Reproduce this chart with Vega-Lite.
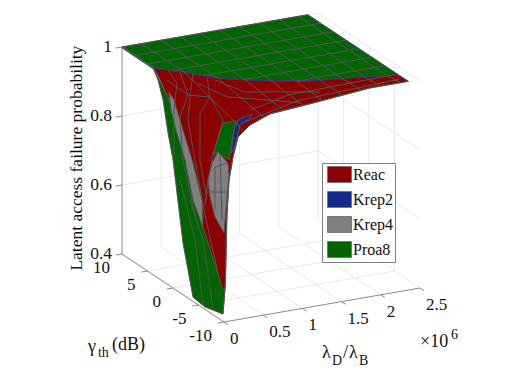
{"$schema":"https://vega.github.io/schema/vega-lite/v6.json","width":512,"height":388,"padding":0,"autosize":{"type":"none"},"background":"white",
"data":{"values":[
{"k":"g","d":"f1","l":0,"g":-10,"p":0.4},{"k":"g","d":"f1","l":0,"g":10,"p":0.4},
{"k":"g","d":"f2","l":0.5,"g":-10,"p":0.4},{"k":"g","d":"f2","l":0.5,"g":10,"p":0.4},
{"k":"g","d":"f3","l":1,"g":-10,"p":0.4},{"k":"g","d":"f3","l":1,"g":10,"p":0.4},
{"k":"g","d":"f4","l":1.5,"g":-10,"p":0.4},{"k":"g","d":"f4","l":1.5,"g":10,"p":0.4},
{"k":"g","d":"f5","l":2,"g":-10,"p":0.4},{"k":"g","d":"f5","l":2,"g":10,"p":0.4},
{"k":"g","d":"f6","l":2.5,"g":-10,"p":0.4},{"k":"g","d":"f6","l":2.5,"g":10,"p":0.4},
{"k":"g","d":"h1","l":0,"g":5,"p":0.4},{"k":"g","d":"h1","l":2.5,"g":5,"p":0.4},
{"k":"g","d":"h2","l":0,"g":0,"p":0.4},{"k":"g","d":"h2","l":2.5,"g":0,"p":0.4},
{"k":"g","d":"h3","l":0,"g":-5,"p":0.4},{"k":"g","d":"h3","l":2.5,"g":-5,"p":0.4},
{"k":"g","d":"v1","l":0.5,"g":10,"p":0.4},{"k":"g","d":"v1","l":0.5,"g":10,"p":1},
{"k":"g","d":"v2","l":1,"g":10,"p":0.4},{"k":"g","d":"v2","l":1,"g":10,"p":1},
{"k":"g","d":"v3","l":1.5,"g":10,"p":0.4},{"k":"g","d":"v3","l":1.5,"g":10,"p":1},
{"k":"g","d":"v4","l":2,"g":10,"p":0.4},{"k":"g","d":"v4","l":2,"g":10,"p":1},
{"k":"g","d":"v5","l":2.5,"g":10,"p":0.4},{"k":"g","d":"v5","l":2.5,"g":10,"p":1},
{"k":"g","d":"w1","l":2.5,"g":5,"p":0.4},{"k":"g","d":"w1","l":2.5,"g":5,"p":1},
{"k":"g","d":"w2","l":2.5,"g":0,"p":0.4},{"k":"g","d":"w2","l":2.5,"g":0,"p":1},
{"k":"g","d":"w3","l":2.5,"g":-5,"p":0.4},{"k":"g","d":"w3","l":2.5,"g":-5,"p":1},
{"k":"g","d":"b1","l":0,"g":10,"p":0.6},{"k":"g","d":"b1","l":2.5,"g":10,"p":0.6},{"k":"g","d":"b1","l":2.5,"g":-10,"p":0.6},
{"k":"g","d":"b2","l":0,"g":10,"p":0.8},{"k":"g","d":"b2","l":2.5,"g":10,"p":0.8},{"k":"g","d":"b2","l":2.5,"g":-10,"p":0.8},
{"k":"g","d":"b3","l":0,"g":10,"p":1},{"k":"g","d":"b3","l":2.5,"g":10,"p":1},{"k":"g","d":"b3","l":2.5,"g":-10,"p":1},
{"k":"a","d":"z","l":0,"g":10,"p":1},{"k":"a","d":"z","l":0,"g":10,"p":0.4},{"k":"a","d":"z","l":0,"g":-10,"p":0.4},{"k":"a","d":"z","l":2.5,"g":-10,"p":0.4},
{"k":"a","d":"t1","l":0,"g":10,"p":1},{"k":"a","d":"t1","l":-0.08,"g":10,"p":1},
{"k":"a","d":"t2","l":0,"g":10,"p":0.8},{"k":"a","d":"t2","l":-0.08,"g":10,"p":0.8},
{"k":"a","d":"t3","l":0,"g":10,"p":0.6},{"k":"a","d":"t3","l":-0.08,"g":10,"p":0.6},
{"k":"a","d":"t4","l":0,"g":10,"p":0.4},{"k":"a","d":"t4","l":-0.08,"g":10,"p":0.4},
{"k":"a","d":"t5","l":0,"g":5,"p":0.4},{"k":"a","d":"t5","l":-0.08,"g":5,"p":0.4},
{"k":"a","d":"t6","l":0,"g":0,"p":0.4},{"k":"a","d":"t6","l":-0.08,"g":0,"p":0.4},
{"k":"a","d":"t7","l":0,"g":-5,"p":0.4},{"k":"a","d":"t7","l":-0.08,"g":-5,"p":0.4},
{"k":"a","d":"t8","l":0,"g":-10,"p":0.4},{"k":"a","d":"t8","l":-0.08,"g":-10,"p":0.4},
{"k":"a","d":"t9","l":0,"g":-10,"p":0.4},{"k":"a","d":"t9","l":0,"g":-10.8,"p":0.4},
{"k":"a","d":"t10","l":0.5,"g":-10,"p":0.4},{"k":"a","d":"t10","l":0.5,"g":-10.8,"p":0.4},
{"k":"a","d":"t11","l":1,"g":-10,"p":0.4},{"k":"a","d":"t11","l":1,"g":-10.8,"p":0.4},
{"k":"a","d":"t12","l":1.5,"g":-10,"p":0.4},{"k":"a","d":"t12","l":1.5,"g":-10.8,"p":0.4},
{"k":"a","d":"t13","l":2,"g":-10,"p":0.4},{"k":"a","d":"t13","l":2,"g":-10.8,"p":0.4},
{"k":"a","d":"t14","l":2.5,"g":-10,"p":0.4},{"k":"a","d":"t14","l":2.5,"g":-10.8,"p":0.4},

{"k":"s","s":"Proa8","d":"P1","l":0,"g":10,"p":1},{"k":"s","s":"Proa8","d":"P1","l":2.37,"g":10,"p":1},{"k":"s","s":"Proa8","d":"P1","l":2.35,"g":-10,"p":1.005},{"k":"s","s":"Proa8","d":"P1","l":2.37,"g":-7.7,"p":1},{"k":"s","s":"Proa8","d":"P1","l":1.95,"g":-6.64,"p":1},{"k":"s","s":"Proa8","d":"P1","l":1.39,"g":-5.55,"p":1},{"k":"s","s":"Proa8","d":"P1","l":1.08,"g":-4.33,"p":1},{"k":"s","s":"Proa8","d":"P1","l":0.795,"g":-2.88,"p":1},{"k":"s","s":"Proa8","d":"P1","l":0.49,"g":-1.08,"p":1},{"k":"s","s":"Proa8","d":"P1","l":0.238,"g":1.7,"p":1},{"k":"s","s":"Proa8","d":"P1","l":0,"g":3.84,"p":1},{"k":"s","s":"Proa8","d":"P1","l":0,"g":10,"p":1},

{"k":"s","s":"Proa8","d":"P2","l":0,"g":3.92,"p":0.999},{"k":"s","s":"Proa8","d":"P2","l":0,"g":2.94,"p":0.974},{"k":"s","s":"Proa8","d":"P2","l":0,"g":1.96,"p":0.926},{"k":"s","s":"Proa8","d":"P2","l":0,"g":0.98,"p":0.84},{"k":"s","s":"Proa8","d":"P2","l":0,"g":0,"p":0.771},{"k":"s","s":"Proa8","d":"P2","l":0,"g":-1.96,"p":0.55},{"k":"s","s":"Proa8","d":"P2","l":0,"g":-3.92,"p":0.412},{"k":"s","s":"Proa8","d":"P2","l":0,"g":-6.27,"p":0.407},{"k":"s","s":"Proa8","d":"P2","l":0,"g":-9.8,"p":0.421},{"k":"s","s":"Proa8","d":"P2","l":0.013,"g":-10,"p":0.498},{"k":"s","s":"Proa8","d":"P2","l":0,"g":-6.67,"p":0.605},{"k":"s","s":"Proa8","d":"P2","l":0,"g":-3.33,"p":0.775},{"k":"s","s":"Proa8","d":"P2","l":0,"g":0.98,"p":0.944},{"k":"s","s":"Proa8","d":"P2","l":0,"g":3.92,"p":0.999},

{"k":"s","s":"Reac","d":"R1","l":0,"g":3.84,"p":1},{"k":"s","s":"Reac","d":"R1","l":0.238,"g":1.7,"p":1},{"k":"s","s":"Reac","d":"R1","l":0.49,"g":-1.08,"p":1},{"k":"s","s":"Reac","d":"R1","l":0.795,"g":-2.88,"p":1},{"k":"s","s":"Reac","d":"R1","l":1.08,"g":-4.33,"p":1},{"k":"s","s":"Reac","d":"R1","l":1.39,"g":-5.55,"p":1},{"k":"s","s":"Reac","d":"R1","l":1.95,"g":-6.64,"p":1},{"k":"s","s":"Reac","d":"R1","l":2.37,"g":-7.7,"p":1},{"k":"s","s":"Reac","d":"R1","l":2.35,"g":-10,"p":1.005},{"k":"s","s":"Reac","d":"R1","l":1.86,"g":-10,"p":1.005},{"k":"s","s":"Reac","d":"R1","l":1.135,"g":-10,"p":0.99},{"k":"s","s":"Reac","d":"R1","l":0.587,"g":-10,"p":0.98},{"k":"s","s":"Reac","d":"R1","l":0.332,"g":-10,"p":0.958},{"k":"s","s":"Reac","d":"R1","l":0.179,"g":-10,"p":0.929},{"k":"s","s":"Reac","d":"R1","l":0.115,"g":-10,"p":0.874},{"k":"s","s":"Reac","d":"R1","l":0.064,"g":-10,"p":0.809},{"k":"s","s":"Reac","d":"R1","l":0.038,"g":-10,"p":0.709},{"k":"s","s":"Reac","d":"R1","l":0.026,"g":-10,"p":0.579},{"k":"s","s":"Reac","d":"R1","l":0.013,"g":-10,"p":0.498},{"k":"s","s":"Reac","d":"R1","l":0,"g":-9.8,"p":0.491},{"k":"s","s":"Reac","d":"R1","l":0,"g":-6.67,"p":0.605},{"k":"s","s":"Reac","d":"R1","l":0,"g":-5.88,"p":0.632},{"k":"s","s":"Reac","d":"R1","l":0,"g":-3.33,"p":0.775},{"k":"s","s":"Reac","d":"R1","l":0,"g":-0.98,"p":0.882},{"k":"s","s":"Reac","d":"R1","l":0,"g":0.98,"p":0.944},{"k":"s","s":"Reac","d":"R1","l":0,"g":2.94,"p":0.986},{"k":"s","s":"Reac","d":"R1","l":0,"g":3.84,"p":1},

{"k":"s","s":"Krep4","d":"G1","l":0,"g":0.78,"p":0.96},{"k":"s","s":"Krep4","d":"G1","l":0,"g":-0.2,"p":0.947},{"k":"s","s":"Krep4","d":"G1","l":0,"g":-1.96,"p":0.877},{"k":"s","s":"Krep4","d":"G1","l":0,"g":-3.92,"p":0.801},{"k":"s","s":"Krep4","d":"G1","l":0,"g":-5.69,"p":0.711},{"k":"s","s":"Krep4","d":"G1","l":0,"g":-5.88,"p":0.632},{"k":"s","s":"Krep4","d":"G1","l":0,"g":-3.92,"p":0.694},{"k":"s","s":"Krep4","d":"G1","l":0,"g":-2.35,"p":0.794},{"k":"s","s":"Krep4","d":"G1","l":0,"g":-0.59,"p":0.864},{"k":"s","s":"Krep4","d":"G1","l":0,"g":0.39,"p":0.912},{"k":"s","s":"Krep4","d":"G1","l":0,"g":0.78,"p":0.96},

{"k":"s","s":"Proa8","d":"P3","l":0,"g":-9.8,"p":0.975},{"k":"s","s":"Proa8","d":"P3","l":0.153,"g":-10,"p":0.977},{"k":"s","s":"Proa8","d":"P3","l":0.102,"g":-10,"p":0.923},{"k":"s","s":"Proa8","d":"P3","l":0.064,"g":-10,"p":0.867},{"k":"s","s":"Proa8","d":"P3","l":0,"g":-8.82,"p":0.881},{"k":"s","s":"Proa8","d":"P3","l":0,"g":-7.84,"p":0.863},{"k":"s","s":"Proa8","d":"P3","l":0,"g":-9.8,"p":0.975},

{"k":"s","s":"Krep4","d":"G2","l":0,"g":-8.82,"p":0.881},{"k":"s","s":"Krep4","d":"G2","l":0.051,"g":-10,"p":0.859},{"k":"s","s":"Krep4","d":"G2","l":0.064,"g":-10,"p":0.818},{"k":"s","s":"Krep4","d":"G2","l":0.038,"g":-10,"p":0.761},{"k":"s","s":"Krep4","d":"G2","l":0,"g":-10,"p":0.658},{"k":"s","s":"Krep4","d":"G2","l":0,"g":-8.24,"p":0.687},{"k":"s","s":"Krep4","d":"G2","l":0,"g":-7.25,"p":0.735},{"k":"s","s":"Krep4","d":"G2","l":0,"g":-6.86,"p":0.781},{"k":"s","s":"Krep4","d":"G2","l":0,"g":-7.65,"p":0.838},{"k":"s","s":"Krep4","d":"G2","l":0,"g":-8.82,"p":0.881},

{"k":"s","s":"Krep2","d":"B1","l":0.179,"g":-10,"p":0.979},{"k":"s","s":"Krep2","d":"B1","l":0.357,"g":-10,"p":0.989},{"k":"s","s":"Krep2","d":"B1","l":0.332,"g":-10,"p":0.978},{"k":"s","s":"Krep2","d":"B1","l":0.204,"g":-10,"p":0.963},{"k":"s","s":"Krep2","d":"B1","l":0.128,"g":-10,"p":0.894},{"k":"s","s":"Krep2","d":"B1","l":0.089,"g":-10,"p":0.886},{"k":"s","s":"Krep2","d":"B1","l":0.128,"g":-10,"p":0.952},{"k":"s","s":"Krep2","d":"B1","l":0.179,"g":-10,"p":0.979},

{"k":"b","d":"e","l":0,"g":3.84,"p":1},{"k":"b","d":"e","l":0.238,"g":1.7,"p":1},{"k":"b","d":"e","l":0.49,"g":-1.08,"p":1},{"k":"b","d":"e","l":0.795,"g":-2.88,"p":1},{"k":"b","d":"e","l":1.08,"g":-4.33,"p":1},{"k":"b","d":"e","l":1.39,"g":-5.55,"p":1},{"k":"b","d":"e","l":1.95,"g":-6.64,"p":1},{"k":"b","d":"e","l":2.37,"g":-7.7,"p":1},

{"k":"w","d":"w","l":0,"g":10,"p":1},{"k":"w","d":"w","l":0,"g":3.84,"p":1},

{"k":"m","d":"a1","l":0.25,"g":10,"p":1},{"k":"m","d":"a1","l":0.25,"g":1.6,"p":1},{"k":"m","d":"a1","l":0.25,"g":-10,"p":0.945},
{"k":"m","d":"a2","l":0.5,"g":10,"p":1},{"k":"m","d":"a2","l":0.5,"g":-1.15,"p":1},{"k":"m","d":"a2","l":0.5,"g":-10,"p":0.975},
{"k":"m","d":"a3","l":0.75,"g":10,"p":1},{"k":"m","d":"a3","l":0.75,"g":-2.6,"p":1},{"k":"m","d":"a3","l":0.75,"g":-10,"p":0.985},
{"k":"m","d":"a4","l":1,"g":10,"p":1},{"k":"m","d":"a4","l":1,"g":-3.9,"p":1},{"k":"m","d":"a4","l":1,"g":-10,"p":0.99},
{"k":"m","d":"a5","l":1.25,"g":10,"p":1},{"k":"m","d":"a5","l":1.25,"g":-5,"p":1},{"k":"m","d":"a5","l":1.25,"g":-10,"p":0.993},
{"k":"m","d":"a6","l":1.5,"g":10,"p":1},{"k":"m","d":"a6","l":1.5,"g":-5.8,"p":1},{"k":"m","d":"a6","l":1.5,"g":-10,"p":1},
{"k":"m","d":"a7","l":1.75,"g":10,"p":1},{"k":"m","d":"a7","l":1.75,"g":-6.25,"p":1},{"k":"m","d":"a7","l":1.75,"g":-10,"p":1.003},
{"k":"m","d":"a8","l":2,"g":10,"p":1},{"k":"m","d":"a8","l":2,"g":-6.75,"p":1},{"k":"m","d":"a8","l":2,"g":-10,"p":1.005},
{"k":"m","d":"a9","l":2.25,"g":10,"p":1},{"k":"m","d":"a9","l":2.25,"g":-7.4,"p":1},{"k":"m","d":"a9","l":2.25,"g":-10,"p":1.005},
{"k":"m","d":"c1","l":0,"g":7.5,"p":1},{"k":"m","d":"c1","l":2.37,"g":7.5,"p":1},
{"k":"m","d":"c2","l":0,"g":5,"p":1},{"k":"m","d":"c2","l":2.365,"g":5,"p":1},
{"k":"m","d":"c3","l":0.15,"g":2.5,"p":1},{"k":"m","d":"c3","l":2.36,"g":2.5,"p":1},
{"k":"m","d":"c4","l":0.392,"g":0,"p":1},{"k":"m","d":"c4","l":2.36,"g":0,"p":1},
{"k":"m","d":"c5","l":0.73,"g":-2.5,"p":1},{"k":"m","d":"c5","l":2.355,"g":-2.5,"p":1},
{"k":"m","d":"c6","l":1.25,"g":-5,"p":1},{"k":"m","d":"c6","l":2.355,"g":-5,"p":1},
{"k":"m","d":"c7","l":0.5,"g":-7.5,"p":0.97},{"k":"m","d":"c7","l":1,"g":-7.5,"p":0.995},{"k":"m","d":"c7","l":2.29,"g":-7.5,"p":1},
{"k":"m","d":"c8","l":0.3,"g":-9,"p":0.955},{"k":"m","d":"c8","l":1,"g":-9,"p":0.992},{"k":"m","d":"c8","l":2.3,"g":-9,"p":1.003},
{"k":"m","d":"o1","l":0,"g":10,"p":1},{"k":"m","d":"o1","l":2.37,"g":10,"p":1},{"k":"m","d":"o1","l":2.35,"g":-10,"p":1.005},
{"k":"m","d":"o2","l":2.35,"g":-10,"p":1.005},{"k":"m","d":"o2","l":1.86,"g":-10,"p":1.005},{"k":"m","d":"o2","l":1.135,"g":-10,"p":0.99},{"k":"m","d":"o2","l":0.587,"g":-10,"p":0.98},{"k":"m","d":"o2","l":0.332,"g":-10,"p":0.958},{"k":"m","d":"o2","l":0.179,"g":-10,"p":0.929},{"k":"m","d":"o2","l":0.115,"g":-10,"p":0.874},{"k":"m","d":"o2","l":0.064,"g":-10,"p":0.809},{"k":"m","d":"o2","l":0.038,"g":-10,"p":0.709},{"k":"m","d":"o2","l":0.026,"g":-10,"p":0.637},{"k":"m","d":"o2","l":0.019,"g":-10,"p":0.512},{"k":"m","d":"o2","l":0,"g":-9.8,"p":0.421},
{"k":"m","d":"L1","l":0,"g":0.98,"p":1.022},{"k":"m","d":"L1","l":0,"g":-0.78,"p":1.002},{"k":"m","d":"L1","l":0,"g":-0.2,"p":0.918},{"k":"m","d":"L1","l":0,"g":-0.2,"p":0.773},
{"k":"m","d":"L2","l":0,"g":-1.37,"p":1.04},{"k":"m","d":"L2","l":0,"g":-2.94,"p":0.988},{"k":"m","d":"L2","l":0,"g":-1.37,"p":0.909},{"k":"m","d":"L2","l":0,"g":-1.96,"p":0.79},{"k":"m","d":"L2","l":0,"g":-4.31,"p":0.654},
{"k":"m","d":"L3","l":0,"g":-3.92,"p":1.059},{"k":"m","d":"L3","l":0,"g":-3.33,"p":0.986},{"k":"m","d":"L3","l":0,"g":-2.94,"p":0.916},{"k":"m","d":"L3","l":0,"g":-4.31,"p":0.814},{"k":"m","d":"L3","l":0,"g":-6.27,"p":0.673},{"k":"m","d":"L3","l":0,"g":-9.22,"p":0.508},
{"k":"m","d":"L4","l":0,"g":-6.67,"p":1.077},{"k":"m","d":"L4","l":0,"g":-7.25,"p":1.025},{"k":"m","d":"L4","l":0,"g":-5.29,"p":0.959},{"k":"m","d":"L4","l":0,"g":-5.29,"p":0.823},{"k":"m","d":"L4","l":0,"g":-6.67,"p":0.721},
{"k":"m","d":"L5","l":0,"g":-9.8,"p":0.983},{"k":"m","d":"L5","l":0,"g":-7.84,"p":0.863},{"k":"m","d":"L5","l":0,"g":-6.86,"p":0.781},{"k":"m","d":"L5","l":0,"g":-6.27,"p":0.702},
{"k":"m","d":"A1","l":0,"g":1.18,"p":0.991},{"k":"m","d":"A1","l":0,"g":-2.94,"p":0.988},{"k":"m","d":"A1","l":0,"g":-7.25,"p":1.025},{"k":"m","d":"A1","l":0,"g":-9.8,"p":0.983},
{"k":"m","d":"A2","l":0,"g":-4.71,"p":1.041},{"k":"m","d":"A2","l":0.038,"g":-10,"p":1.051},{"k":"m","d":"A2","l":0.548,"g":-10,"p":1.022},{"k":"m","d":"A2","l":0.969,"g":-10,"p":0.997},
{"k":"m","d":"A3","l":0,"g":-8.24,"p":1.084},{"k":"m","d":"A3","l":0.268,"g":-10,"p":1.056},{"k":"m","d":"A3","l":0.714,"g":-10,"p":1.039},{"k":"m","d":"A3","l":1.224,"g":-10,"p":1.018},
{"k":"m","d":"B1","l":0,"g":-8.24,"p":0.832},{"k":"m","d":"B1","l":0.051,"g":-10,"p":0.859},
{"k":"m","d":"B2","l":0,"g":-6.67,"p":0.744},{"k":"m","d":"B2","l":0.038,"g":-10,"p":0.775},
{"k":"m","d":"B3","l":0,"g":-8.24,"p":0.832},{"k":"m","d":"B3","l":0,"g":-8.24,"p":0.707},
{"k":"m","d":"B4","l":0,"g":-9.22,"p":0.882},{"k":"m","d":"B4","l":0,"g":-9.61,"p":0.692},
{"k":"m","d":"D1","l":0,"g":-1.37,"p":0.727},{"k":"m","d":"D1","l":0,"g":-4.31,"p":0.582},{"k":"m","d":"D1","l":0,"g":-5.88,"p":0.409},
{"k":"m","d":"D2","l":0,"g":-3.33,"p":0.688},{"k":"m","d":"D2","l":0,"g":-5.88,"p":0.597},{"k":"m","d":"D2","l":0,"g":-7.84,"p":0.419},

{"k":"zt","t":"1","l":0,"g":10,"p":1},{"k":"zt","t":"0.8","l":0,"g":10,"p":0.8},{"k":"zt","t":"0.6","l":0,"g":10,"p":0.6},{"k":"zt","t":"0.4","l":0,"g":10,"p":0.4},
{"k":"gt","t":"10","l":0,"g":10,"p":0.4},{"k":"gt","t":"5","l":0,"g":5,"p":0.4},{"k":"gt","t":"0","l":0,"g":0,"p":0.4},{"k":"gt","t":"-5","l":0,"g":-5,"p":0.4},{"k":"gt","t":"-10","l":0,"g":-10,"p":0.4},
{"k":"lt","t":"0","l":0,"g":-10,"p":0.4},{"k":"lt","t":"0.5","l":0.5,"g":-10,"p":0.4},{"k":"lt","t":"1","l":1,"g":-10,"p":0.4},{"k":"lt","t":"1.5","l":1.5,"g":-10,"p":0.4},{"k":"lt","t":"2","l":2,"g":-10,"p":0.4},{"k":"lt","t":"2.5","l":2.5,"g":-10,"p":0.4},
{"k":"big","t":"γ","l":0,"g":16.67,"p":0.065},{"k":"big","t":"(dB)","l":0,"g":11.96,"p":0.117},
{"k":"big","t":"λ","l":1.25,"g":-10,"p":0.261},{"k":"big","t":"/","l":1.518,"g":-10,"p":0.25},{"k":"big","t":"λ","l":1.594,"g":-10,"p":0.247},
{"k":"big","t":"×10","l":2.5,"g":-10,"p":0.243},
{"k":"sm","t":"th","l":0,"g":14.71,"p":0.067},{"k":"sm","t":"D","l":1.378,"g":-10,"p":0.233},{"k":"sm","t":"B","l":1.722,"g":-10,"p":0.219},{"k":"sm","t":"6","l":2.895,"g":-10,"p":0.248},
{"k":"ttl","t":"Latent access failure probability","l":0,"g":18.82,"p":0.591}
]},
"transform":[
{"window":[{"op":"row_number","as":"o"}]},
{"calculate":"122+102*(10-datum.g)/20+196*datum.l/2.5","as":"sx"},
{"calculate":"254+68*(10-datum.g)/20-34*datum.l/2.5-345*(datum.p-0.4)","as":"sy"}
],
"encoding":{
"x":{"field":"sx","type":"quantitative","scale":{"domain":[0,512],"range":[0,512],"nice":false,"zero":false},"axis":null},
"y":{"field":"sy","type":"quantitative","scale":{"domain":[0,388],"range":[0,388],"nice":false,"zero":false},"axis":null}
},
"layer":[
{"transform":[{"filter":"datum.k=='g'"}],"mark":{"type":"line","stroke":"#e3e3e3","strokeWidth":0.8},"encoding":{"detail":{"field":"d"},"order":{"field":"o","type":"quantitative"}}},
{"transform":[{"filter":"datum.k=='a'"}],"mark":{"type":"line","stroke":"#8a8a8a","strokeWidth":1},"encoding":{"detail":{"field":"d"},"order":{"field":"o","type":"quantitative"}}},
{"transform":[{"filter":"datum.k=='s'"}],"mark":{"type":"line","stroke":"#555555","strokeWidth":1,"strokeJoin":"round"},"encoding":{"detail":{"field":"d"},"order":{"field":"o","type":"quantitative"},
"fill":{"field":"s","type":"nominal","scale":{"domain":["Reac","Krep2","Krep4","Proa8"],"range":["#8b0000","#14288c","#808080","#006400"]},
"legend":{"title":null,"orient":"none","legendX":322,"legendY":163,"fillColor":"white","strokeColor":"#7f7f7f","padding":2,"symbolType":"M-0.667,-0.89H2V0.89H-0.667Z","symbolSize":324,"symbolStrokeColor":"#777777","symbolStrokeWidth":1,"symbolOpacity":1,"labelFont":"Liberation Serif","labelFontSize":16,"labelColor":"#111111","labelOffset":10,"rowPadding":4}}}},
{"transform":[{"filter":"datum.k=='b'"}],"mark":{"type":"line","stroke":"#2a3080","strokeWidth":1.6,"opacity":0.75},"encoding":{"detail":{"field":"d"},"order":{"field":"o","type":"quantitative"}}},
{"transform":[{"filter":"datum.k=='w'"}],"mark":{"type":"line","stroke":"#4d5a4d","strokeWidth":2.5},"encoding":{"detail":{"field":"d"},"order":{"field":"o","type":"quantitative"}}},
{"transform":[{"filter":"datum.k=='m'"}],"mark":{"type":"line","stroke":"#555555","strokeWidth":1},"encoding":{"detail":{"field":"d"},"order":{"field":"o","type":"quantitative"}}},
{"transform":[{"filter":"datum.k=='zt'"}],"mark":{"type":"text","font":"Liberation Serif","fontSize":17.5,"align":"right","baseline":"middle","dx":-10,"color":"#111111"},"encoding":{"text":{"field":"t"}}},
{"transform":[{"filter":"datum.k=='gt'"}],"mark":{"type":"text","font":"Liberation Serif","fontSize":17,"align":"right","baseline":"middle","dx":-12,"dy":14,"color":"#111111"},"encoding":{"text":{"field":"t"}}},
{"transform":[{"filter":"datum.k=='lt'"}],"mark":{"type":"text","font":"Liberation Serif","fontSize":17,"align":"left","baseline":"middle","dx":6,"dy":17,"color":"#111111"},"encoding":{"text":{"field":"t"}}},
{"transform":[{"filter":"datum.k=='big'"}],"mark":{"type":"text","font":"Liberation Serif","fontSize":18,"align":"left","baseline":"middle","color":"#111111"},"encoding":{"text":{"field":"t"}}},
{"transform":[{"filter":"datum.k=='sm'"}],"mark":{"type":"text","font":"Liberation Serif","fontSize":14,"align":"left","baseline":"middle","color":"#111111"},"encoding":{"text":{"field":"t"}}},
{"transform":[{"filter":"datum.k=='ttl'"}],"mark":{"type":"text","font":"Liberation Serif","fontSize":17.5,"align":"center","baseline":"middle","angle":270,"color":"#111111"},"encoding":{"text":{"field":"t"}}}
],
"config":{"view":{"stroke":null}}
}
